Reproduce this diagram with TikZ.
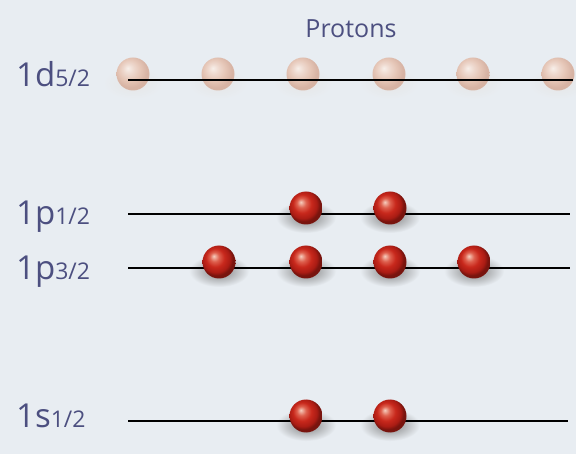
\documentclass[tikz,border=0pt]{standalone}
\usepackage{fontspec}
\setmainfont{Open Sans}
\definecolor{bgpaper}{HTML}{E8EDF2}
\definecolor{labelink}{HTML}{4C4F80}
% sphere shadings: glossy red for filled states, pale peach for empty ones
\pgfdeclareradialshading{redsphere}{\pgfpoint{-8bp}{9bp}}{%
  color(0bp)=(rgb,255:red,246;green,206;blue,190);
  color(7bp)=(rgb,255:red,222;green,96;blue,78);
  color(14bp)=(rgb,255:red,200;green,40;blue,28);
  color(21bp)=(rgb,255:red,170;green,28;blue,20);
  color(25bp)=(rgb,255:red,120;green,20;blue,14);
  color(50bp)=(rgb,255:red,120;green,20;blue,14)}
\pgfdeclareradialshading{palesphere}{\pgfpoint{-8bp}{9bp}}{%
  color(0bp)=(rgb,255:red,252;green,240;blue,232);
  color(8bp)=(rgb,255:red,240;green,212;blue,198);
  color(16bp)=(rgb,255:red,230;green,190;blue,170);
  color(25bp)=(rgb,255:red,212;green,166;blue,146);
  color(50bp)=(rgb,255:red,212;green,166;blue,146)}
\begin{document}
\begin{tikzpicture}[x=1pt,y=-1pt,
  level/.style={line width=1.8pt,black},
  toplevel/.style={line width=2.6pt,black},
  shelllabel/.style={anchor=base west,inner sep=0pt,text=labelink,font=\fontsize{33}{33}\selectfont},
  proton/.style={circle,minimum size=33pt,inner sep=0pt,shading=redsphere},
  paleproton/.style={circle,minimum size=33pt,inner sep=0pt,shading=palesphere,opacity=0.8},
  ]
\def\sub#1{{\fontsize{23}{23}\selectfont #1}}
% drop shadow beneath a sphere
\newcommand\ballshadow[3]{%
  \shade[inner color=black!#3,outer color=bgpaper] (#1,#2+9) ellipse [x radius=30pt,y radius=16pt];}
% paper background
\fill[bgpaper] (0,0) rectangle (576,454);
\useasboundingbox (0,0) rectangle (576,454);

% title
\node[text=labelink,font=\fontsize{25}{25}\selectfont] (title) at (351,29) {Protons};

% shell labels
\node[shelllabel] (ld) at (16,87) {1d\sub{5/2}};
\node[shelllabel] (lp1) at (16,225) {1p\sub{1/2}};
\node[shelllabel] (lp3) at (16,280) {1p\sub{3/2}};
\node[shelllabel] (ls) at (16,428) {1s\sub{1/2}};

% level end points
\coordinate (d-l) at (128,80);  \coordinate (d-r) at (573,80);
\coordinate (p1-l) at (128,214); \coordinate (p1-r) at (570,214);
\coordinate (p3-l) at (128,268); \coordinate (p3-r) at (570,268);
\coordinate (s-l) at (128,421); \coordinate (s-r) at (568,421);

% shadows of the occupied states
\foreach \x in {306,390} {\ballshadow{\x}{208}{50}}
\foreach \x in {219,306,390,474} {\ballshadow{\x}{262}{50}}
\foreach \x in {306,390} {\ballshadow{\x}{416}{50}}
\foreach \x in {133,218,303,389,473,558} {\ballshadow{\x}{74}{10}}

% empty 1d5/2 states, drawn faintly beneath the level line
\foreach \x [count=\i] in {133,218,303,389,473,558}
  \node[paleproton] (d\i) at (\x,74) {};
\draw[toplevel] (d-l) -- (d-r);

% occupied levels
\draw[level] (p1-l) -- (p1-r);
\draw[level] (p3-l) -- (p3-r);
\draw[level] (s-l) -- (s-r);
\foreach \x [count=\i] in {306,390}
  \node[proton] (pa\i) at (\x,208) {};
\foreach \x [count=\i] in {219,306,390,474}
  \node[proton] (pb\i) at (\x,262) {};
\foreach \x [count=\i] in {306,390}
  \node[proton] (s\i) at (\x,416) {};
\end{tikzpicture}
\end{document}
